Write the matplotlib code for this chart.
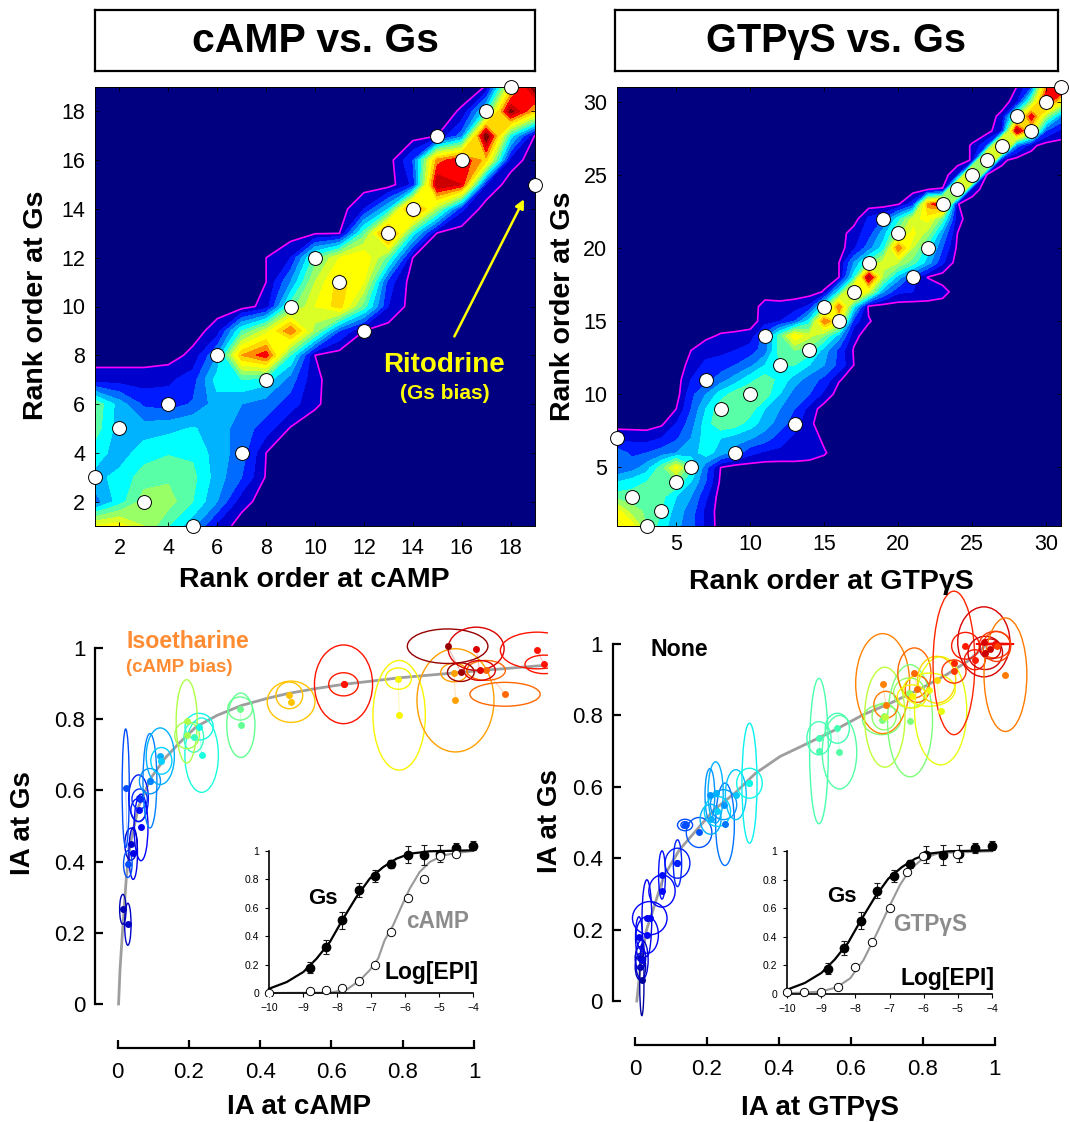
import numpy as np
import matplotlib
matplotlib.use("Agg")
import matplotlib.pyplot as plt
from matplotlib.patches import Ellipse

plt.rcParams["font.family"] = ["Liberation Sans", "DejaVu Sans"]

W, H = 1070, 1122

# heat maps: density level per rank row, (first column, values), rest is 0
camp_rows = [
    (1, [8.6, 9, 7.5, 5.5, 3.8, 1.2]),
    (1, [3, 5, 7, 7, 5.5, 3.5, 0.9]),
    (1, [4.2, 4.8, 6, 6.3, 5.8, 4, 2.5, 0.4]),
    (1, [5, 4, 5, 5.4, 5.3, 4, 3, 0.5]),
    (1, [6, 4, 4, 4.2, 4.6, 4, 3, 2, 0.4]),
    (1, [6.3, 4, 2.3, 2, 2.6, 4, 3.5, 3, 2, 0.65]),
    (1, [1, 1, 1, 1.3, 2, 5, 5.5, 5, 3, 0.7]),
    (5, [0.8, 3.5, 10.5, 12.2, 5.5, 0.5]),
    (6, [1, 5.5, 8, 11.5, 7, 2.5, 0.5]),
    (8, [0.9, 6, 8.5, 10, 6, 1.5]),
    (8, [0.5, 3.5, 7.5, 10, 8.5, 2]),
    (8, [0.5, 1.5, 6, 8.5, 9.5, 6, 0.5]),
    (10, [0.4, 0.5, 6, 12.5, 5, 0.4]),
    (12, [1.5, 4.5, 12.5, 7, 1.7]),
    (14, [1.7, 13.5, 12.5, 1.4]),
    (14, [2.5, 11, 12.5, 10, 1]),
    (15, [0.5, 3, 14.5, 5, 0.4]),
    (16, [0.63, 5, 14, 10]),
    (17, [0.55, 9, 14.5]),
]
camp_rank_x = list(range(1, 20))
camp_rank_y = [3, 5, 2, 6, 1, 8, 4, 7, 10, 12, 11, 9, 13, 14, 17, 16, 18, 19, 15]

gtp_rows = [
    (1, [9.2, 9, 6.5, 5, 3.8, 2.8, 1.3]),
    (1, [9, 7, 6.3, 5.5, 4, 3, 1.2]),
    (1, [6, 6, 6, 5.8, 4.5, 3.5, 1.7]),
    (1, [4.5, 5, 5.5, 6, 6.3, 4.5, 2.5, 0.3]),
    (1, [2.5, 3, 4, 6, 8.8, 5.8, 2.8, 0.5]),
    (1, [3, 2.3, 2.5, 3, 3.5, 4, 5, 4, 3, 1.8, 1.3, 1.2, 1.2, 1, 0.6]),
    (1, [1.3, 1.2, 1.1, 1.5, 2.3, 3.5, 5, 4.5, 4, 3.6, 3, 2, 1.2, 1, 0.3]),
    (4, [0.3, 1.5, 3, 5, 6.3, 6, 5, 4, 3, 2, 0.7]),
    (5, [0.5, 2.5, 4.5, 6.2, 6.4, 6, 4.5, 3.5, 2.5, 1.1]),
    (6, [2.2, 3.5, 5, 6, 6.3, 6, 4.5, 3, 2.5, 1.25]),
    (6, [1.5, 2, 3, 4, 5.2, 6, 5.2, 4, 3, 2.2, 0.6]),
    (6, [0.8, 1.8, 2, 2.5, 3.2, 4.5, 5.5, 5.5, 4.5, 3.5, 2.2, 0.5]),
    (6, [0.5, 1, 1.2, 1.5, 2, 3, 6, 6.5, 6, 4, 2.2, 0.4]),
    (7, [0.3, 0.6, 0.7, 0.9, 3, 6, 9.3, 7.8, 6.5, 4, 0.8]),
    (11, [1, 1.5, 2.5, 5, 11.5, 9, 2, 0.6]),
    (11, [0.9, 0.8, 1, 1.7, 5.5, 11.5, 5, 0.3]),
    (15, [0.6, 5, 11, 8, 3.5, 1.7, 1.5, 1.3, 0.9]),
    (16, [0.5, 5, 13.5, 7, 4, 2, 0.45]),
    (16, [0.5, 3.5, 6, 8, 7.5, 6, 4, 1.7]),
    (17, [1.3, 3, 5, 11.5, 7.5, 5, 2.5, 0.3]),
    (17, [1, 2, 4, 7, 8.8, 7, 3.5, 0.5]),
    (18, [1.7, 2.5, 5, 8, 9, 6, 0.8]),
    (20, [0.4, 2, 11, 13, 0.55]),
    (22, [0.5, 0.55, 14, 1]),
    (24, [1.3, 14, 0.3]),
    (25, [0.6, 14, 0.8]),
    (25, [0.6, 2.5, 14, 3, 0.8]),
    (27, [1.5, 13.5, 9, 2.5, 1.25]),
    (27, [0.8, 7, 12.5, 7, 3.5]),
    (28, [1, 6.5, 13, 9]),
    (28, [0.5, 2.5, 11, 14]),
]
gtp_rank_x = list(range(1, 32))
gtp_rank_y = [7, 3, 1, 2, 4, 5, 11, 9, 6, 10, 14, 12, 8, 13, 16, 15, 17, 19, 22, 21,
              18, 20, 23, 24, 25, 26, 27, 29, 28, 30, 31]

# ligand ellipses: centre, width, height, jet position
camp_x = [.015, .029, .044, .038, .029, .023, .066, .059, .059, .062, .091, .091, .120, .123,
          .229, .236, .214, .195, .194, .344, .346, .482, .487, .634, .634, .788, .79, .944,
          .948, 1.087, 1.034, .926, .963, 1.006, 1.016, 1.177, 1.197]
camp_y = [.266, .224, .423, .449, .393, .606, .496, .545, .578, .576, .626, .627, .696, .683,
          .779, .699, .749, .755, .794, .83, .783, .867, .849, .898, .898, .914, .811, .931,
          .853, .87, .937, 1.005, .932, .998, .937, .993, .954]
camp_w = [.018, .018, .024, .035, .024, .020, .039, .043, .055, .043, .059, .039, .079, .059,
          .079, .094, .055, .069, .059, .069, .079, .075, .134, .083, .163, .073, .147, .075,
          .216, .197, .108, .226, .075, .157, .088, .206, .108]
camp_h = [.084, .118, .146, .09, .075, .333, .187, .065, .131, .056, .071, .265, .159, .075,
          .075, .209, .084, .075, .234, .065, .181, .075, .116, .065, .221, .06, .308, .052,
          .29, .067, .056, .097, .052, .121, .056, .103, .052]
camp_c = [.05, .06, .09, .07, .2, .2, .11, .14, .15, .17, .27, .25, .3, .33,
          .37, .38, .42, .55, .56, .48, .47, .7, .7, .88, .89, .65, .65, .74,
          .74, .8, .8, .98, .97, .92, .92, .89, .89]
camp_links = [(4, 5), (14, 15), (19, 20), (21, 22), (25, 26), (27, 28), (29, 30), (31, 32),
              (33, 34), (35, 36)]
camp_curve_x = [.003, .007, .015, .025, .036, .059, .093, .133, .172, .221, .28, .349, .418,
                .477, .556, .634, .713, .788, .944, 1.047, 1.195]
camp_curve_y = [0, .096, .218, .358, .451, .554, .634, .69, .732, .779, .811, .839, .858,
                .872, .886, .898, .907, .916, .93, .939, .951]

gtp_x = [.019, .015, .015, .019, .011, .034, .033, .041, .075, .075, .118, .118, .139, .139,
         .178, .25, .208, .224, .246, .21, .229, .28, .318, .318, .511, .511, .562, .568,
         .685, .692, .697, .688, .694, .764, .762, .776, .784, .769, .849, .838, .817, .886,
         .886, .918, .944, .969, .973, 1.0, .987, 1.029, 1.0, 1.005]
gtp_y = [.059, .096, .12, .115, .18, .185, .232, .232, .308, .353, .386, .386, .493, .493,
         .472, .495, .578, .584, .55, .509, .531, .578, .61, .61, .736, .7, .764, .697,
         .788, .797, .83, .889, .795, .785, .863, .919, .874, .853, .813, .9, .872, .923,
         .947, .995, .956, 1.006, .975, .998, .986, .914, 1.0, .993]
gtp_w = [.012, .029, .029, .035, .019, .062, .027, .096, .073, .019, .069, .023, .042, .023,
         .071, .052, .027, .042, .073, .058, .073, .058, .042, .071, .067, .052, .067, .096,
         .106, .067, .067, .15, .112, .125, .087, .092, .067, .081, .145, .106, .145, .067,
         .116, .077, .058, .145, .096, .087, .058, .119, .106, .077]
gtp_h = [.2, .075, .065, .112, .112, .103, .215, .093, .09, .135, .084, .131, .032, .019,
         .084, .231, .146, .172, .084, .084, .084, .14, .336, .084, .093, .407, .084, .206,
         .084, .075, .075, .28, .28, .314, .084, .14, .075, .065, .303, .131, .093, .065,
         .402, .075, .056, .196, .093, .075, .056, .318, .004, .084]
gtp_c = [.03, .05, .07, .08, .09, .11, .1, .12, .13, .14, .15, .16, .2, .2,
         .21, .24, .27, .3, .27, .3, .33, .32, .36, .37, .43, .44, .43, .45,
         .5, .52, .78, .77, .58, .5, .53, .8, .8, .65, .63, .68, .64, .85,
         .87, .88, .88, .92, .93, .85, .93, .78, .9, .84]
gtp_links = [(8, 9), (10, 11), (24, 25), (26, 27), (30, 31), (33, 34), (35, 36), (38, 39)]
gtp_curve_x = [.005, .015, .032, .056, .08, .123, .171, .22, .277, .335, .403, .48, .557,
               .634, .711, .788, .865, .923, .971]
gtp_curve_y = [0, .096, .199, .274, .349, .423, .479, .536, .582, .638, .685, .722, .76,
               .802, .835, .872, .914, .951, .993]

# inset dose response
gs_log = [-8.8, -8.33, -7.84, -7.36, -6.88, -6.4, -5.92, -5.44, -4.96, -4.49, -4.0]
gs_val = [.178, .324, .512, .723, .824, .91, .974, .97, .98, 1.02, 1.038]
gs_err = [.04, .05, .06, .05, .04, .03, .06, .07, .06, .035, .03]
gs_fit_x = [-10, -9.48, -8.99, -8.6, -8.21, -7.82, -7.43, -7.04, -6.64, -6.25, -5.86, -5.27, -4]
gs_fit_y = [.03, .077, .148, .242, .359, .523, .676, .805, .887, .946, .981, .998, 1.005]

camp_log = [-10, -8.8, -8.31, -7.84, -7.36, -6.88, -6.41, -5.92, -5.44, -4.96, -4.49]
camp_val = [0, .014, .02, .035, .082, .2, .43, .669, .805, .962, .977]
camp_fit_x = [-10, -8.2, -7.72, -7.33, -7.04, -6.79, -6.6, -6.35, -6.11, -5.86, -5.57, -5.27,
              -4.88, -4.49, -4]
camp_fit_y = [0, .003, .023, .089, .16, .242, .371, .476, .606, .735, .852, .923, .969, .986, 1]

gtp_log = [-10, -9.51, -9, -8.51, -8, -7.51, -7, -6.5, -6.03, -5.01]
gtp_val = [.012, .012, .012, .051, .187, .364, .598, .853, .963, .981]
gtp_fit_x = [-10, -9.03, -8.54, -8.15, -7.76, -7.37, -6.98, -6.69, -6.4, -6.01, -5.53, -4]
gtp_fit_y = [.005, .016, .047, .11, .238, .425, .624, .764, .869, .951, .986, .998]

level_colors = [(0, 0, .5), (0, 0, .8), (0, .1, 1), (0, .42, 1), (0, .7, 1), (0, 1, 1),
                (.35, 1, .65), (.6, 1, .4), (.85, 1, .15), (1, 1, 0), (1, .85, 0),
                (1, .55, 0), (1, 0, 0), (.8, 0, 0), (.5, 0, 0)]

fig = plt.figure(figsize=(W / 100, H / 100), dpi=100, facecolor="white")


def px_axes(left, top, right, bottom):
    ax = fig.add_axes([left / W, 1 - bottom / H, (right - left) / W, (bottom - top) / H])
    ax.patch.set_alpha(0)
    return ax


def px_text(x, y, s, **kw):
    kw.setdefault("ha", "center")
    kw.setdefault("va", "center")
    return fig.text(x / W, 1 - y / H, s, **kw)


def title_box(left, right, s, size):
    ax = px_axes(left, 10, right, 71)
    ax.set_xticks([])
    ax.set_yticks([])
    for sp in ax.spines.values():
        sp.set_linewidth(1.6)
    ax.text(.5, .5, s, transform=ax.transAxes, ha="center", va="center",
            fontsize=size, fontweight="bold")


def heat_panel(box, rows, rank_x, rank_y, ticks, pad):
    n = len(rows)
    z = np.zeros((n, n))
    for i, (first, vals) in enumerate(rows):
        z[i, first - 1:first - 1 + len(vals)] = vals
    grid = np.arange(1, n + 1)
    ax = px_axes(*box)
    ax.contourf(grid, grid, z, levels=np.arange(-.5, 15.5), colors=level_colors)
    ax.contour(grid, grid, z, levels=[.5], colors=[(1, 0, 1)], linewidths=1.2)
    ax.plot(rank_x, rank_y, "o", ms=10, mfc="white", mec="black", mew=.7, clip_on=False, zorder=5)
    ax.set_xticks(ticks)
    ax.set_yticks(ticks)
    ax.tick_params(direction="in", top=True, right=True, length=3, width=.6, labelsize=15.5)
    ax.tick_params(axis="x", pad=pad)
    ax.tick_params(axis="y", pad=7)
    for sp in ax.spines.values():
        sp.set_linewidth(.7)
    return ax


def bias_panel(left, top, right, bottom, x0, x1, y0, y1, ex, ey, ew, eh, ec, links, cx, cy):
    ax = px_axes(left, top, right, bottom)
    sx = x1 - x0
    sy = y0 - y1
    ax.set_xlim((left - x0) / sx, (right - x0) / sx)
    ax.set_ylim((y0 - bottom) / sy, (y0 - top) / sy)
    ax.plot(cx, cy, color="0.62", lw=2, zorder=1)
    for a, b in links:
        ax.plot([ex[a], ex[b]], [ey[a], ey[b]], color=plt.cm.jet(ec[a]), lw=.6, alpha=.35, zorder=1)
    for x, y, w, h, c in zip(ex, ey, ew, eh, ec):
        col = plt.cm.jet(c)
        ax.add_patch(Ellipse((x, y), w, h, fill=False, ec=col, lw=1, zorder=2))
        ax.plot(x, y, "o", ms=5, color=col, mew=0, zorder=3)
    for side in ("top", "right"):
        ax.spines[side].set_visible(False)
    ax.spines["left"].set_bounds(0, 1)
    ax.spines["bottom"].set_bounds(0, 1)
    ax.spines["left"].set_linewidth(1.6)
    ax.spines["bottom"].set_linewidth(1.6)
    ticks = [0, .2, .4, .6, .8, 1]
    ax.set_xticks(ticks, ["0", "0.2", "0.4", "0.6", "0.8", "1"])
    ax.set_yticks(ticks, ["0", "0.2", "0.4", "0.6", "0.8", "1"])
    ax.tick_params(direction="in", length=6, width=1.6, labelsize=16)
    ax.tick_params(axis="x", pad=10)
    ax.tick_params(axis="y", pad=7)
    return ax


def inset(left, right, y0, y1, open_x, open_y, fit_x, fit_y):
    # y axis runs a bit past 1 so the top points are not cut
    sy = y0 - y1
    sx = (right - left) / 6
    ax = px_axes(left - .2 * sx, y1 - .12 * sy, right + .2 * sx, y0 + .02 * sy)
    ax.set_xlim(-10.2, -3.8)
    ax.set_ylim(-.02, 1.12)
    ax.plot(fit_x, fit_y, color="0.6", lw=1.5, zorder=2)
    ax.plot(gs_fit_x, gs_fit_y, color="black", lw=1.6, zorder=3)
    ax.errorbar(gs_log, gs_val, yerr=gs_err, fmt="o", ms=6, color="black", mec="black",
                ecolor="0.1", elinewidth=.8, capsize=2.5, capthick=.8, zorder=4)
    ax.plot(open_x, open_y, "o", ms=6, mfc="white", mec="black", mew=.7, zorder=5)
    for side in ("top", "right"):
        ax.spines[side].set_visible(False)
    ax.spines["left"].set_position(("data", -10))
    ax.spines["bottom"].set_position(("data", 0))
    ax.spines["left"].set_bounds(0, 1)
    ax.spines["bottom"].set_bounds(-10, -4)
    ax.spines["left"].set_linewidth(1.2)
    ax.spines["bottom"].set_linewidth(1.2)
    ax.set_xticks(range(-10, -3))
    ax.set_yticks([0, .2, .4, .6, .8, 1], ["0", "0.2", "0.4", "0.6", "0.8", "1"])
    ax.tick_params(length=3, width=.8, labelsize=7.5, pad=4)
    return ax


title_box(95, 535, "cAMP vs. Gs", 29.5)
title_box(615, 1058, "GTPγS vs. Gs", 28.5)

ax1 = heat_panel((95, 87, 535, 526), camp_rows, camp_rank_x, camp_rank_y, list(range(2, 19, 2)), 9)
ax2 = heat_panel((617, 87, 1061, 526), gtp_rows, gtp_rank_x, gtp_rank_y, list(range(5, 31, 5)), 6)

ax1.annotate("", xy=(18.6, 14.5), xytext=(15.65, 8.67),
             arrowprops=dict(arrowstyle="-|>", color="#ffff00", lw=1.8, mutation_scale=13))
px_text(444, 365, "Ritodrine", color="#ffff00", fontsize=20, fontweight="bold")
px_text(445, 394, "(Gs bias)", color="#ffff00", fontsize=15, fontweight="bold")

px_text(36, 305, "Rank order at Gs", rotation=90, fontsize=20.5, fontweight="bold")
px_text(314, 580, "Rank order at cAMP", fontsize=20.5, fontweight="bold")
px_text(563, 306, "Rank order at Gs", rotation=90, fontsize=20.5, fontweight="bold")
px_text(831, 582, "Rank order at GTPγS", fontsize=20.5, fontweight="bold")

bias_panel(95, 610, 548, 1048, 117.5, 474, 1004, 648, camp_x, camp_y, camp_w, camp_h, camp_c,
           camp_links, camp_curve_x, camp_curve_y)
bias_panel(612.6, 590, 1065, 1045, 635, 995, 1001, 644, gtp_x, gtp_y, gtp_w, gtp_h, gtp_c,
           gtp_links, gtp_curve_x, gtp_curve_y)

px_text(126, 642, "Isoetharine", ha="left", color="#ff8c32", fontsize=16.7, fontweight="bold")
px_text(126, 667, "(cAMP bias)", ha="left", color="#ff8c32", fontsize=13.5, fontweight="bold")
px_text(651, 649, "None", ha="left", fontsize=16.7, fontweight="bold")

px_text(23, 823, "IA at Gs", rotation=90, fontsize=20, fontweight="bold")
px_text(299, 1107, "IA at cAMP", fontsize=20, fontweight="bold")
px_text(550, 821, "IA at Gs", rotation=90, fontsize=20, fontweight="bold")
px_text(820, 1108, "IA at GTPγS", fontsize=20, fontweight="bold")

inset(269, 473, 993, 851, camp_log, camp_val, camp_fit_x, camp_fit_y)
inset(787, 992, 994, 851, gtp_log, gtp_val, gtp_fit_x, gtp_fit_y)

px_text(323, 898, "Gs", fontsize=16, fontweight="bold")
px_text(438, 922, "cAMP", color="0.55", fontsize=16.3, fontweight="bold")
px_text(431, 973, "Log[EPI]", fontsize=16.5, fontweight="bold")
px_text(842, 897, "Gs", fontsize=16, fontweight="bold")
px_text(930, 925, "GTPγS", color="0.55", fontsize=16.3, fontweight="bold")
px_text(948, 978, "Log[EPI]", fontsize=16.5, fontweight="bold")

fig.savefig("out.png", dpi=100)
